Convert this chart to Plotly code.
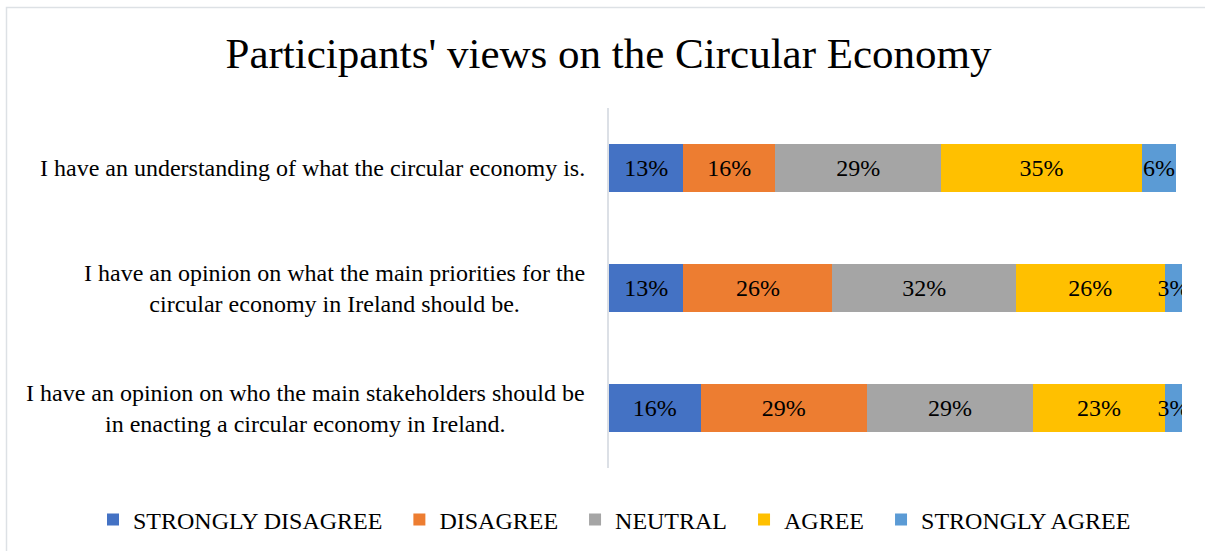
import plotly.graph_objects as go

# Survey statements (top to bottom) and response shares in percent
statements = [
    "I have an understanding of what the circular economy is.",
    "I have an opinion on what the main priorities for the<br>circular economy in Ireland should be.",
    "I have an opinion on who the main stakeholders should be<br>in enacting a circular economy in Ireland.",
]
responses = ["STRONGLY DISAGREE", "DISAGREE", "NEUTRAL", "AGREE", "STRONGLY AGREE"]
strongly_disagree = [13, 13, 16]
disagree = [16, 26, 29]
neutral = [29, 32, 29]
agree = [35, 26, 23]
strongly_agree = [6, 3, 3]

series = [strongly_disagree, disagree, neutral, agree, strongly_agree]
colors = ["#4472C4", "#ED7D31", "#A5A5A5", "#FFC000", "#5B9BD5"]

W, H = 1205, 551
L, R, T, B = 609, 23, 108, 83
plot_w = W - L - R
plot_h = H - T - B
FONT = "Liberation Serif, Times New Roman, serif"
PAD = "\u00a0\u00a0"  # extra breathing room after each legend entry


def px_x(p):
    return (p - L) / plot_w


def px_y(p):
    return (H - B - p) / plot_h


fig = go.Figure()
for k, (name, vals, col) in enumerate(zip(responses, series, colors)):
    fig.add_trace(go.Bar(
        y=statements,
        x=vals,
        name=name + (PAD if k < len(responses) - 1 else ""),
        orientation="h",
        marker=dict(color=col, line=dict(width=0)),
        text=[f"{v}%" for v in vals],
        textposition="inside",
        insidetextanchor="middle",
        textangle=0,
        textfont=dict(family=FONT, size=24, color="#000000"),
        hoverinfo="skip",
    ))

# Category labels, centred multi-line text right-aligned to the axis
for s in statements:
    fig.add_annotation(
        xref="paper", yref="y", x=0, y=s, xshift=-22,
        xanchor="right", yanchor="middle", align="center",
        text=s, showarrow=False,
        font=dict(family=FONT, size=24, color="#000000"),
    )

# Light chart-area border
fig.add_shape(
    type="rect", xref="paper", yref="paper",
    x0=px_x(6.5), x1=px_x(1215), y0=px_y(560), y1=px_y(7.5),
    line=dict(color="#DDE1E5", width=1.5), fillcolor="rgba(0,0,0,0)",
    layer="below",
)

fig.update_layout(
    width=W, height=H,
    margin=dict(l=L, r=R, t=T, b=B, pad=0, autoexpand=False),
    barmode="stack",
    bargap=0.6,
    paper_bgcolor="white",
    plot_bgcolor="white",
    title=dict(
        text="Participants' views on the Circular Economy",
        font=dict(family=FONT, size=43, color="#000000"),
        xref="container", x=0.505, xanchor="center",
        yref="container", y=1 - 53 / H, yanchor="middle",
    ),
    xaxis=dict(range=[0, 100], showgrid=False, zeroline=False,
               showticklabels=False, showline=False, fixedrange=True),
    yaxis=dict(categoryorder="array", categoryarray=statements[::-1],
               showticklabels=False, showgrid=False, zeroline=False,
               showline=True, linecolor="#DCE0E6", linewidth=2,
               ticks="", fixedrange=True),
    legend=dict(
        orientation="h", traceorder="normal",
        xref="paper", x=px_x(93), xanchor="left",
        yref="paper", y=px_y(520), yanchor="middle",
        font=dict(family=FONT, size=24, color="#000000"),
        itemwidth=30, bgcolor="rgba(0,0,0,0)",
    ),
    uniformtext=dict(minsize=24, mode="show"),
    showlegend=True,
)

fig.write_html("out.html")
